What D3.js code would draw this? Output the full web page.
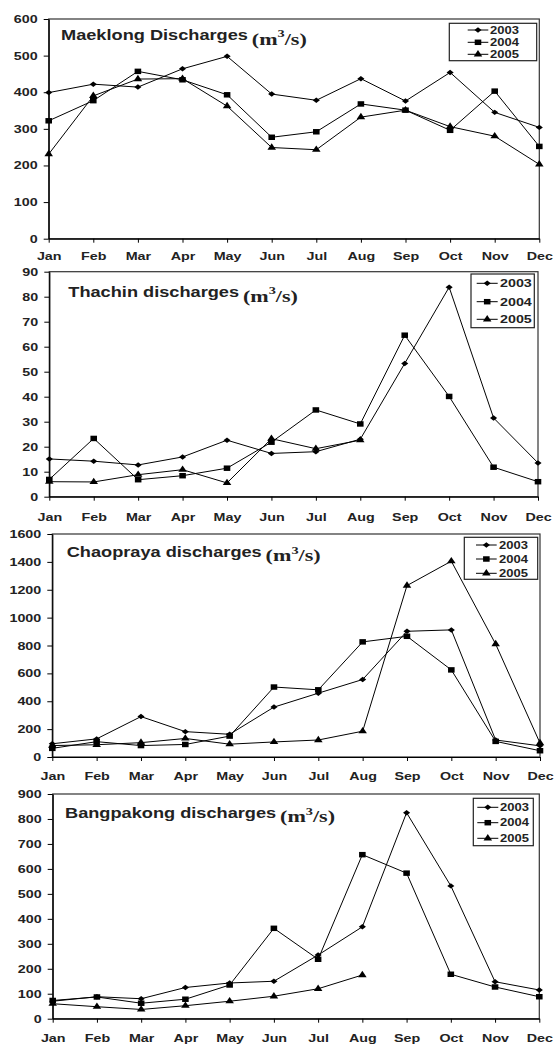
<!DOCTYPE html>
<html>
<head>
<meta charset="utf-8">
<script src="https://cdn.jsdelivr.net/npm/d3@7"></script>
<style>
  html, body { margin: 0; padding: 0; background: #fff; }
  svg { display: block; }
  text { font-family: "Liberation Sans", Arial, sans-serif; font-weight: bold; fill: #222; }
</style>
</head>
<body>
<svg id="chart" width="554" height="1044"></svg>
<script>
// Monthly river discharges (m3/s), 2003-2005
const months = ["Jan", "Feb", "Mar", "Apr", "May", "Jun", "Jul", "Aug", "Sep", "Oct", "Nov", "Dec"];
const years = ["2003", "2004", "2005"];

const maeklong2003 = [399, 422, 414, 464, 498, 395, 378, 437, 376, 454, 345, 304];
const maeklong2004 = [322, 377, 457, 434, 393, 277, 292, 368, 351, 296, 403, 252];
const maeklong2005 = [231, 390, 436, 437, 362, 249, 243, 332, 351, 306, 280, 203];

const thachin2003 = [15.1, 14.2, 12.7, 15.9, 22.6, 17.3, 18.0, 23.0, 53.3, 83.8, 31.5, 13.5];
const thachin2004 = [6.9, 23.3, 6.8, 8.4, 11.4, 21.8, 34.7, 29.1, 64.6, 40.1, 11.8, 6.0];
const thachin2005 = [6.0, 5.9, 8.8, 10.8, 5.5, 23.2, 19.2, 22.6];

const chaopraya2003 = [95, 130, 290, 182, 163, 358, 458, 556, 902, 912, 122, 80];
const chaopraya2004 = [62, 110, 82, 90, 150, 502, 482, 826, 866, 625, 112, 45];
const chaopraya2005 = [82, 88, 103, 133, 92, 108, 122, 185, 1230, 1405, 810, 100];

const bangpakong2003 = [70, 88, 80, 125, 143, 150, 255, 368, 825, 532, 148, 115];
const bangpakong2004 = [73, 87, 62, 78, 135, 362, 238, 657, 583, 178, 127, 88];
const bangpakong2005 = [60, 48, 37, 52, 70, 90, 120, 175];

const maeklongTicks = [0, 100, 200, 300, 400, 500, 600];
const thachinTicks = [0, 10, 20, 30, 40, 50, 60, 70, 80, 90];
const chaoprayaTicks = [0, 200, 400, 600, 800, 1000, 1200, 1400, 1600];
const bangpakongTicks = [0, 100, 200, 300, 400, 500, 600, 700, 800, 900];

const titles = ["Maeklong Discharges", "Thachin discharges", "Chaopraya discharges", "Bangpakong discharges"];

// Horizontal stretch applied to all lettering
const SX = 1.3;

const panels = [
  { title: titles[0], series: [maeklong2003, maeklong2004, maeklong2005], ticks: maeklongTicks,
    box: { l: 48.7, r: 539.3, t: 19, b: 238.7 }, xPad: 9.5,
    titlePos: [61, 40],
    legend: { x0: 449.3, x1: 536.7, y0: 23.3, y1: 60.7, rows: [30, 42.3, 54.3], lx0: 467.7, lx1: 488.3, tx: 490, fs: 10 } },
  { title: titles[1], series: [thachin2003, thachin2004, thachin2005], ticks: thachinTicks,
    box: { l: 49.3, r: 538, t: 271.7, b: 496.7 }, xPad: 12,
    titlePos: [68.3, 297],
    legend: { x0: 471, x1: 534.3, y0: 274, y1: 327.7, rows: [283.3, 301.7, 319.3], lx0: 476.7, lx1: 497.7, tx: 500, fs: 11 } },
  { title: titles[2], series: [chaopraya2003, chaopraya2004, chaopraya2005], ticks: chaoprayaTicks,
    box: { l: 52.3, r: 540, t: 534, b: 757 }, xPad: 11,
    titlePos: [66.7, 556.5],
    legend: { x0: 464.3, x1: 537.7, y0: 537.3, y1: 579.3, rows: [545, 559, 573.3], lx0: 476, lx1: 496.7, tx: 499, fs: 10 } },
  { title: titles[3], series: [bangpakong2003, bangpakong2004, bangpakong2005], ticks: bangpakongTicks,
    box: { l: 52.7, r: 539.3, t: 794, b: 1018.7 }, xPad: 11.5,
    titlePos: [65, 817.5],
    legend: { x0: 473.3, x1: 533.3, y0: 798.3, y1: 845.7, rows: [807.3, 822.7, 838.3], lx0: 477.3, lx1: 498.3, tx: 500, fs: 10 } }
];

const svg = d3.select("#chart");

// Marker shapes: diamond, square, triangle
const markerDefs = [
  { type: d3.symbolSquare, size: 15, tf: "scale(1.3,1) rotate(45)" },
  { type: d3.symbolSquare, size: 30, tf: "scale(1.2,1)" },
  { type: d3.symbolTriangle, size: 24, tf: "scale(1.15,1)" }
];

function drawMarker(g, x, y, i) {
  const m = markerDefs[i];
  g.append("path")
    .attr("d", d3.symbol().type(m.type).size(m.size)())
    .attr("transform", `translate(${x},${y}) ${m.tf}`)
    .attr("fill", "#000");
}

panels.forEach(p => {
  const g = svg.append("g");
  const x = d3.scalePoint().domain(months).range([p.box.l, p.box.r]);
  const yMax = p.ticks[p.ticks.length - 1];
  const y = d3.scaleLinear().domain([0, yMax]).range([p.box.b, p.box.t]);

  // plot frame
  g.append("rect")
    .attr("x", p.box.l).attr("y", y(yMax))
    .attr("width", p.box.r - p.box.l).attr("height", y(0) - y(yMax))
    .attr("fill", "none").attr("stroke", "#333").attr("stroke-width", 1.2);

  // y axis
  const ya = g.append("g").attr("transform", `translate(${p.box.l},0)`)
    .call(d3.axisLeft(y).tickValues(p.ticks).tickFormat(d3.format("d"))
      .tickSize(5).tickSizeOuter(0).tickPadding(3.5));
  ya.select(".domain").attr("stroke", "#000").attr("stroke-width", 1.2);
  ya.selectAll(".tick line").attr("stroke", "#000");
  ya.selectAll(".tick text")
    .attr("font-size", 11)
    .attr("fill", "#222")
    .attr("font-family", null)
    .attr("transform", `scale(${SX},1)`);

  // x axis
  const xa = g.append("g").attr("transform", `translate(0,${y(0)})`)
    .call(d3.axisBottom(x).tickSize(4).tickSizeOuter(0).tickPadding(p.xPad));
  xa.select(".domain").attr("stroke", "#000").attr("stroke-width", 1.2);
  xa.selectAll(".tick line").attr("stroke", "#000");
  xa.selectAll(".tick text")
    .attr("font-size", 11)
    .attr("fill", "#222")
    .attr("font-family", null)
    .attr("transform", `scale(${SX},1)`);

  // series lines and markers
  const line = d3.line().x((d, i) => x(months[i])).y(d => y(d));
  p.series.forEach((vals, si) => {
    g.append("path").datum(vals)
      .attr("d", line)
      .attr("fill", "none")
      .attr("stroke", "#000")
      .attr("stroke-width", 1);
  });
  p.series.forEach((vals, si) => {
    vals.forEach((v, i) => drawMarker(g, x(months[i]), y(v), si));
  });

  // title with unit
  const t = g.append("text")
    .attr("transform", `translate(${p.titlePos[0]},${p.titlePos[1]}) scale(${SX},1)`);
  t.append("tspan").attr("font-size", 14).text(p.title);
  const serif = "'Liberation Serif', 'Times New Roman', serif";
  t.append("tspan").attr("dx", 3).attr("dy", 4.5)
    .attr("font-family", serif).attr("font-size", 17).text("(m");
  t.append("tspan").attr("dy", -7.5)
    .attr("font-family", serif).attr("font-size", 11).text("3");
  t.append("tspan").attr("dy", 7.5)
    .attr("font-family", serif).attr("font-size", 17).text("/s)");

  // legend
  const L = p.legend;
  const lg = g.append("g");
  lg.append("rect")
    .attr("x", L.x0).attr("y", L.y0)
    .attr("width", L.x1 - L.x0).attr("height", L.y1 - L.y0)
    .attr("fill", "#fff").attr("stroke", "#222").attr("stroke-width", 1.2);
  years.forEach((yr, i) => {
    const ry = L.rows[i];
    lg.append("line")
      .attr("x1", L.lx0).attr("x2", L.lx1).attr("y1", ry).attr("y2", ry)
      .attr("stroke", "#000").attr("stroke-width", 1);
    drawMarker(lg, (L.lx0 + L.lx1) / 2, ry, i);
    lg.append("text")
      .attr("transform", `translate(${L.tx},${ry}) scale(${SX},1)`)
      .attr("dy", "0.36em")
      .attr("font-size", L.fs)
      .text(yr);
  });
});
</script>
</body>
</html>
